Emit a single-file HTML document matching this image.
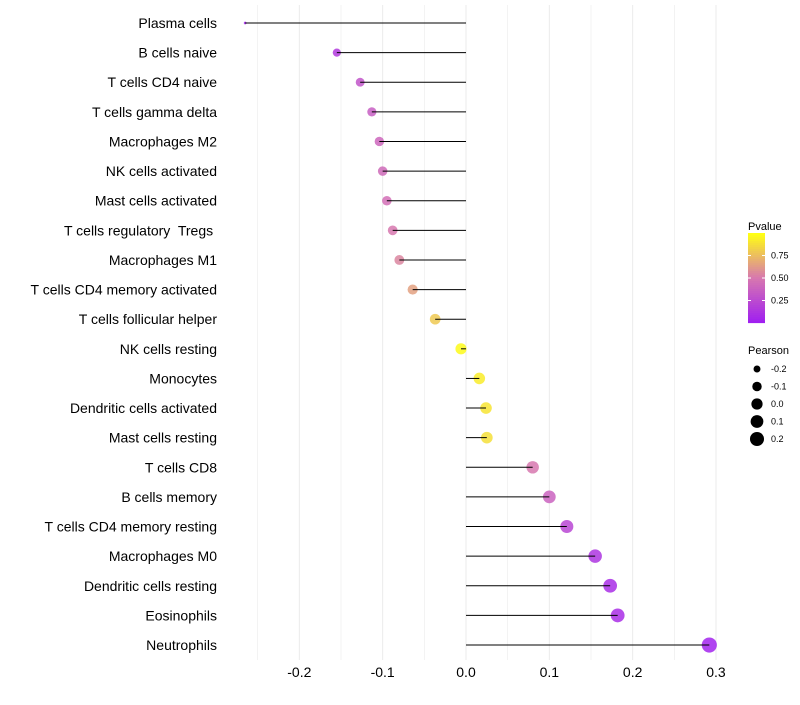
<!DOCTYPE html>
<html><head><meta charset="utf-8"><style>
body{margin:0;background:#fff;font-family:"Liberation Sans",sans-serif}
text{white-space:pre}
</style></head><body>
<svg id="chart" width="800" height="700" xmlns="http://www.w3.org/2000/svg"></svg>
<script>
const categories=["Plasma cells","B cells naive","T cells CD4 naive","T cells gamma delta","Macrophages M2","NK cells activated","Mast cells activated","T cells regulatory  Tregs ","Macrophages M1","T cells CD4 memory activated","T cells follicular helper","NK cells resting","Monocytes","Dendritic cells activated","Mast cells resting","T cells CD8","B cells memory","T cells CD4 memory resting","Macrophages M0","Dendritic cells resting","Eosinophils","Neutrophils"];
const pearson=[-0.265,-0.155,-0.127,-0.113,-0.104,-0.1,-0.095,-0.088,-0.08,-0.064,-0.037,-0.006,0.016,0.024,0.025,0.08,0.1,0.121,0.155,0.173,0.182,0.292];
const pvalue=[0.03,0.15,0.3,0.35,0.4,0.42,0.45,0.5,0.55,0.65,0.8,0.98,0.93,0.9,0.88,0.5,0.38,0.22,0.12,0.08,0.08,0.02];
const xTicks=[-0.2,-0.1,0.0,0.1,0.2,0.3];
const pTicks=[0.25,0.5,0.75];
const sizeTicks=[-0.2,-0.1,0.0,0.1,0.2];
const NS="http://www.w3.org/2000/svg";
const svg=document.getElementById('chart');
const x=v=>466+v*833.3;
const y=i=>23+i*29.62;
const pmin=Math.min(...pearson),pmax=Math.max(...pearson);
const rad=v=>1.35*(1+4.6*Math.sqrt(Math.max(0,(v-pmin)/(pmax-pmin))));
function lerp(a,b,t){return a.map((c,i)=>Math.round(c+(b[i]-c)*t));}
function col(p){const s=[[160,32,240],[215,120,175],[255,255,20]];
 const c=p<0.5?lerp(s[0],s[1],p/0.5):lerp(s[1],s[2],(p-0.5)/0.5);return `rgb(${c.join(',')})`;}
function mk(t,a,p){const e=document.createElementNS(NS,t);for(const k in a)e.setAttribute(k,a[k]);(p||svg).appendChild(e);return e;}
for(let v=-0.25;v<=0.301;v+=0.05){const e=mk('line',{x1:x(v),x2:x(v),y1:5,y2:660,stroke:'#ebebeb','stroke-width':Math.abs(Math.round(v*100)%10)===5?0.6:1});

}
categories.forEach((c,i)=>{
 const t=mk('text',{x:217,y:y(i)+5,'text-anchor':'end','font-size':14,fill:'#000'});t.textContent=c;
 
 
 const dot=mk('circle',{cx:x(pearson[i]),cy:y(i),r:rad(pearson[i]),fill:col(pvalue[i]),'fill-opacity':0.85});
 
 
 const l=mk('line',{x1:x(0),x2:x(pearson[i]),y1:y(i),y2:y(i),stroke:'#000','stroke-width':1});
 
 
});
xTicks.forEach(v=>{const t=mk('text',{x:x(v),y:677,'text-anchor':'middle','font-size':14,fill:'#000'});t.textContent=v.toFixed(1);

});
const g=mk('g',{});
const tt=mk('text',{x:748,y:230,'font-size':11,fill:'#000'},g);tt.textContent='Pvalue';
for(let k=0;k<45;k++){mk('rect',{x:748,y:323-(k+1)*2,width:17,height:2.1,fill:col(k/44)},g);}
pTicks.forEach(p=>{const yy=323-p*90;mk('line',{x1:748,x2:751,y1:yy,y2:yy,stroke:'#fff'},g);mk('line',{x1:762,x2:765,y1:yy,y2:yy,stroke:'#fff'},g);
 const t=mk('text',{x:771,y:yy+3,'font-size':9,fill:'#000'},g);t.textContent=p.toFixed(2);});
const g2=mk('g',{});
const t2=mk('text',{x:748,y:354,'font-size':11,fill:'#000'},g2);t2.textContent='Pearson';
sizeTicks.forEach((v,k)=>{const yy=369+k*17.5;mk('circle',{cx:757,cy:yy,r:rad(v),fill:'#000'},g2);
 const t=mk('text',{x:771,y:yy+3,'font-size':9,fill:'#000'},g2);t.textContent=v.toFixed(1);});
</script>
</body></html>
